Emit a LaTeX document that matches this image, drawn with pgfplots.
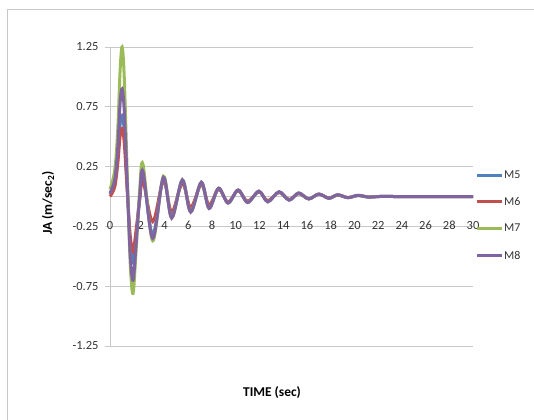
\documentclass[border=0pt]{standalone}
\usepackage{fontspec}
\setmainfont{Carlito}
\usepackage{pgfplots}
\usepackage{pgfplotstable}
\pgfplotsset{compat=1.18}
\definecolor{cM5}{HTML}{4F81BD}
\definecolor{cM6}{HTML}{C0504D}
\definecolor{cM7}{HTML}{9BBB59}
\definecolor{cM8}{HTML}{8064A2}
\definecolor{gridgray}{HTML}{C8C8C8}

% time (s) and JA for the four cases
\pgfplotstableread{
t     m5     m6     m7     m8
0     0.02   0.00   0.06   0.03
0.4   0.12   0.08   0.22   0.14
0.65  0.32   0.27   0.55   0.40
0.85  0.60   0.50   1.05   0.78
1.02  0.68   0.57   1.25   0.90
1.2   0.55   0.45   1.00   0.72
1.45  0.08   0.05   0.20   0.12
1.7  -0.38  -0.32  -0.55  -0.48
1.94 -0.55  -0.46  -0.81  -0.70
2.2  -0.33  -0.28  -0.45  -0.40
2.5  -0.02  -0.03   0.05   0.00
2.78  0.19   0.13   0.27   0.21
3.6  -0.32  -0.21  -0.37  -0.35
4.5   0.15   0.13   0.17   0.16
5.2  -0.17  -0.13  -0.18  -0.18
6.1   0.13   0.11   0.14   0.14
6.8  -0.12  -0.09  -0.13  -0.13
7.7   0.11   0.10   0.12   0.12
8.35 -0.09  -0.07  -0.10  -0.10
9.15  0.065  0.06   0.07   0.07
9.95 -0.05  -0.045 -0.055 -0.055
10.8  0.05   0.05   0.055  0.055
11.6 -0.045 -0.04  -0.05  -0.05
12.55 0.04   0.04   0.045  0.045
13.3 -0.04  -0.035 -0.045 -0.045
14.25 0.035  0.035  0.04   0.04
15.1 -0.03  -0.025 -0.03  -0.03
15.9  0.025  0.025  0.03   0.03
16.75 -0.02 -0.02  -0.02  -0.02
17.6  0.02   0.02   0.02   0.02
18.45 -0.015 -0.012 -0.015 -0.015
19.2  0.012  0.012  0.015  0.015
20.05 -0.01 -0.008 -0.01  -0.01
20.9  0.008  0.008  0.01   0.01
21.8 -0.005 -0.004 -0.005 -0.005
22.7  0      0      0      0
24    0      0      0      0
27    0      0      0      0
30.6  0      0      0      0
}\jadata

\begin{document}
\begin{tikzpicture}
\useasboundingbox (0,0) rectangle (534bp,-420bp);
\begin{scope}[x=1bp,y=-1bp]
\draw[gridgray, line width=1bp] (7.5,420) -- (7.5,9) -- (534,9);
\node[rotate=90, font=\fontsize{13.5}{15}\selectfont\bfseries] at (48,203) {JA (m/sec\textsubscript{2})};
\node[font=\fontsize{13.5}{15}\selectfont\bfseries] at (272,393) {TIME (sec)};
\end{scope}
\begin{axis}[
  at={(110bp,-346bp)}, anchor=south west,
  scale only axis, width=363bp, height=299bp,
  xmin=0, xmax=30.6, ymin=-1.25, ymax=1.25,
  axis x line*=bottom, axis y line*=left,
  axis line style={-, gridgray, line width=1bp},
  x axis line style={draw=none},
  xtick={0,2.6,4.6,6.6,8.6,10.6,12.6,14.6,16.6,18.6,20.6,22.6,24.6,26.6,28.6,30.6},
  xticklabels={0,2,4,6,8,10,12,14,16,18,20,22,24,26,28,30},
  ytick={-1.25,-0.75,-0.25,0.25,0.75,1.25},
  yticklabels={-1.25,-0.75,-0.25,0.25,0.75,1.25},
  extra y ticks={0},
  extra y tick labels={},
  extra y tick style={grid=major, major tick length=0pt},
  xtick style={draw=none},
  ytick style={gridgray, line width=1bp},
  tick align=outside, major tick length=5bp,
  ymajorgrids=true,
  grid style={gridgray, line width=1bp},
  tick label style={font=\fontsize{12.5}{14}\selectfont, text=black!80},
  xticklabel style={anchor=center, yshift=126bp},
  yticklabel style={xshift=-3bp},
  clip=false,
  legend cell align=left,
  legend style={at={(1.0055,0.4365)}, anchor=west, draw=none, fill=none,
    inner sep=0pt, row sep=15.5bp, font=\fontsize{12}{13}\selectfont,
    nodes={inner sep=1bp, text=black!80}},
  legend image code/.code={\draw[#1] (0bp,0bp) -- (25bp,0bp);},
]
\addplot[cM5, line width=3bp, smooth, tension=0.55, no marks] table[x=t, y=m5] {\jadata};
\addlegendentry{M5}
\addplot[cM6, line width=3bp, smooth, tension=0.55, no marks] table[x=t, y=m6] {\jadata};
\addlegendentry{M6}
\addplot[cM7, line width=3bp, smooth, tension=0.55, no marks] table[x=t, y=m7] {\jadata};
\addlegendentry{M7}
\addplot[cM8, line width=3bp, smooth, tension=0.55, no marks] table[x=t, y=m8] {\jadata};
\addlegendentry{M8}
\end{axis}
\end{tikzpicture}
\end{document}
